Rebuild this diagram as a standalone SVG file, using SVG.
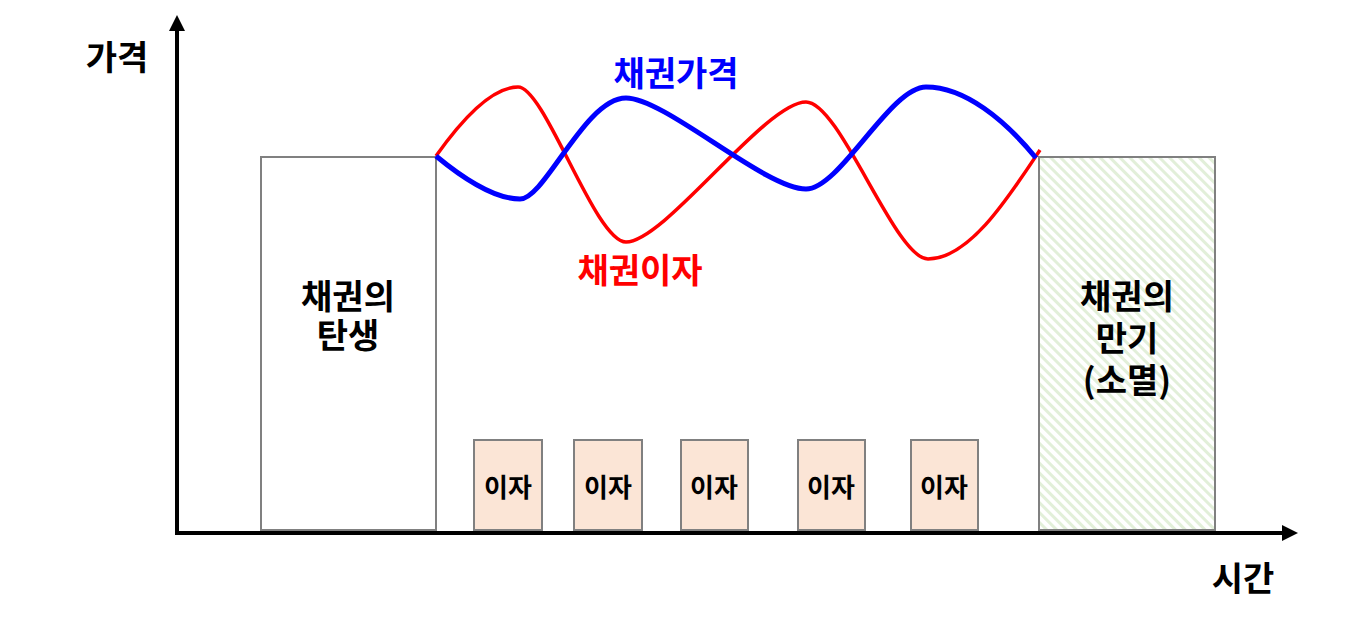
<svg xmlns="http://www.w3.org/2000/svg" width="1360" height="617" viewBox="0 0 1360 617">
<style>
.t{font-family:"Noto Sans CJK KR","Liberation Sans",sans-serif;font-weight:bold;text-anchor:middle;}
.big{font-size:34px;fill:#000;}
.small{font-size:26px;fill:#000;}
.box{stroke:#808080;stroke-width:2;}
.intbox{fill:#FBE5D6;stroke:#808080;stroke-width:2;}
.axis{stroke:#000;stroke-width:4;fill:none;}
</style>
<defs>
<pattern id="hatch" patternUnits="userSpaceOnUse" width="7" height="7" patternTransform="rotate(-45)">
<rect width="7" height="7" fill="#fff"/>
<line x1="0" y1="0" x2="0" y2="7" stroke="#E2EFD9" stroke-width="6"/>
</pattern>
<marker id="ah" viewBox="0 0 10 10" refX="0" refY="5" markerWidth="4" markerHeight="4" orient="auto" markerUnits="strokeWidth">
<path d="M0,0 L10,5 L0,10 Z" fill="#000"/>
</marker>
</defs>
<rect width="1360" height="617" fill="#fff"/>
<g id="birth">
<rect class="box" x="261" y="157" width="175" height="373" fill="#fff"/>
<text class="t big" x="348" y="309"><tspan x="348">채권의</tspan><tspan x="348" dy="39">탄생</tspan></text>
</g>
<g id="maturity">
<rect class="box" x="1039" y="157" width="176" height="373" fill="url(#hatch)"/>
<text class="t big" x="1127" y="309"><tspan x="1127">채권의</tspan><tspan x="1127" dy="42">만기</tspan><tspan x="1127" dy="42">(소멸)</tspan></text>
</g>
<g id="interest1"><rect class="intbox" x="474" y="440" width="68" height="90"/><text class="t small" x="508" y="497">이자</text></g>
<g id="interest2"><rect class="intbox" x="574" y="440" width="68" height="90"/><text class="t small" x="608" y="497">이자</text></g>
<g id="interest3"><rect class="intbox" x="681" y="440" width="67" height="90"/><text class="t small" x="714" y="497">이자</text></g>
<g id="interest4"><rect class="intbox" x="798" y="440" width="67" height="90"/><text class="t small" x="831" y="497">이자</text></g>
<g id="interest5"><rect class="intbox" x="911" y="440" width="67" height="90"/><text class="t small" x="944" y="497">이자</text></g>
<g id="connectors">
<line class="axis" x1="177" y1="532" x2="177" y2="31" marker-end="url(#ah)"/>
<line class="axis" x1="175" y1="533" x2="1282" y2="533" marker-end="url(#ah)"/>
<path d="M436,156 C470,108 497,87 518,87 C545,87 595,242 626,242 C665,242 765,102 806,102 C840,102 895,259 928,259 C970,259 1010,195 1040,150" fill="none" stroke="#FF0000" stroke-width="3.5"/>
<path d="M436,156 C465,180 495,199 520,199 C545,199 585,98 626,98 C665,98 765,189 806,189 C840,189 890,87 926,87 C965,87 1005,120 1036,158" fill="none" stroke="#0000FF" stroke-width="5"/>
</g>
<g id="labels">
<text class="t big" x="117" y="70">가격</text>
<text class="t big" x="1243" y="591">시간</text>
<text class="t big" x="676" y="86" style="fill:#0000FF">채권가격</text>
<text class="t big" x="640" y="283" style="fill:#FF0000">채권이자</text>
</g>
</svg>
